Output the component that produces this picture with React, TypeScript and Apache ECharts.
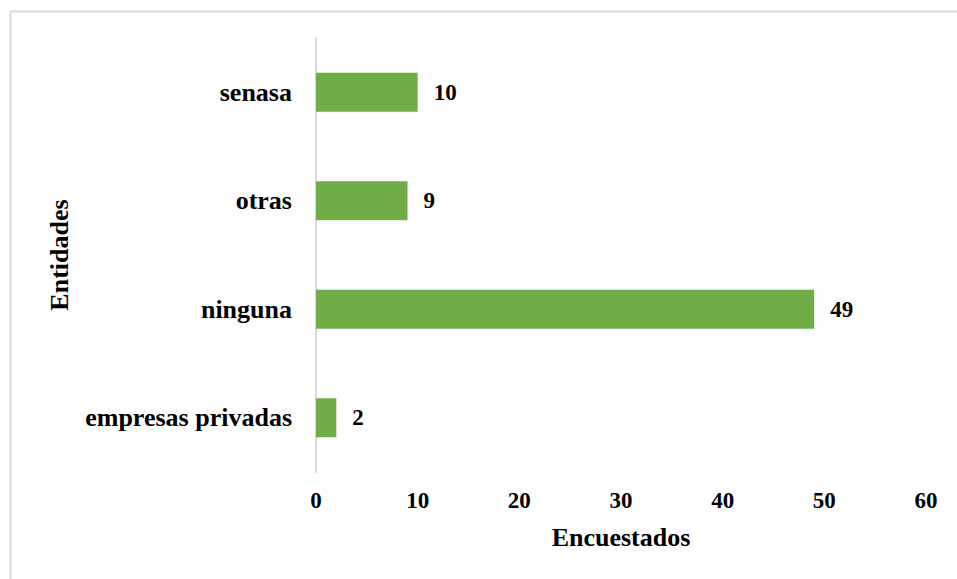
import React, { useEffect, useRef } from "react";
import * as echarts from "echarts";

const categories = ["empresas privadas", "ninguna", "otras", "senasa"];
const values = [2, 49, 9, 10];
const xTicks = { min: 0, max: 60, interval: 10 };
const xTitle = "Encuestados";
const yTitle = "Entidades";

const FONT = "Liberation Serif";

export default function App() {
  const ref = useRef<HTMLDivElement>(null);
  useEffect(() => {
    if (!ref.current) return;
    const chart = echarts.init(ref.current, undefined, { renderer: "svg" });
    chart.setOption({
      animation: false,
      backgroundColor: "#ffffff",
      textStyle: { fontFamily: FONT },
      grid: { left: 316, right: 31, top: 38, bottom: 107, containLabel: false },
      graphic: [
        {
          type: "rect",
          left: 8,
          top: 9,
          shape: { width: 1000, height: 1000 },
          style: { fill: "none", stroke: "#d9d9d9", lineWidth: 2 },
          silent: true,
        },
      ],
      xAxis: {
        type: "value",
        min: xTicks.min,
        max: xTicks.max,
        interval: xTicks.interval,
        axisLine: { show: false },
        axisTick: { show: false },
        splitLine: { show: false },
        axisLabel: {
          margin: 17,
          fontFamily: FONT,
          fontWeight: "bold",
          fontSize: 23,
          color: "#000",
        },
        name: xTitle,
        nameLocation: "middle",
        nameGap: 52,
        nameTextStyle: { fontFamily: FONT, fontWeight: "bold", fontSize: 26, color: "#000" },
      },
      yAxis: {
        type: "category",
        data: categories,
        axisLine: { show: true, lineStyle: { color: "#d9d9d9", width: 2 } },
        axisTick: { show: false },
        splitLine: { show: false },
        axisLabel: {
          margin: 24,
          fontFamily: FONT,
          fontWeight: "bold",
          fontSize: 26,
          color: "#000",
        },
        name: yTitle,
        nameLocation: "middle",
        nameGap: 244,
        nameRotate: 90,
        nameTextStyle: { fontFamily: FONT, fontWeight: "bold", fontSize: 26, color: "#000" },
      },
      series: [
        {
          type: "bar",
          data: values,
          barWidth: 39,
          itemStyle: { color: "#70ad47" },
          label: {
            show: true,
            position: "right",
            distance: 16,
            fontFamily: FONT,
            fontWeight: "bold",
            fontSize: 23,
            color: "#000",
          },
        },
      ],
    });
    return () => chart.dispose();
  }, []);
  return (
    <div
      ref={ref}
      style={{ position: "fixed", left: 0, top: 0, width: 957, height: 579 }}
    />
  );
}
